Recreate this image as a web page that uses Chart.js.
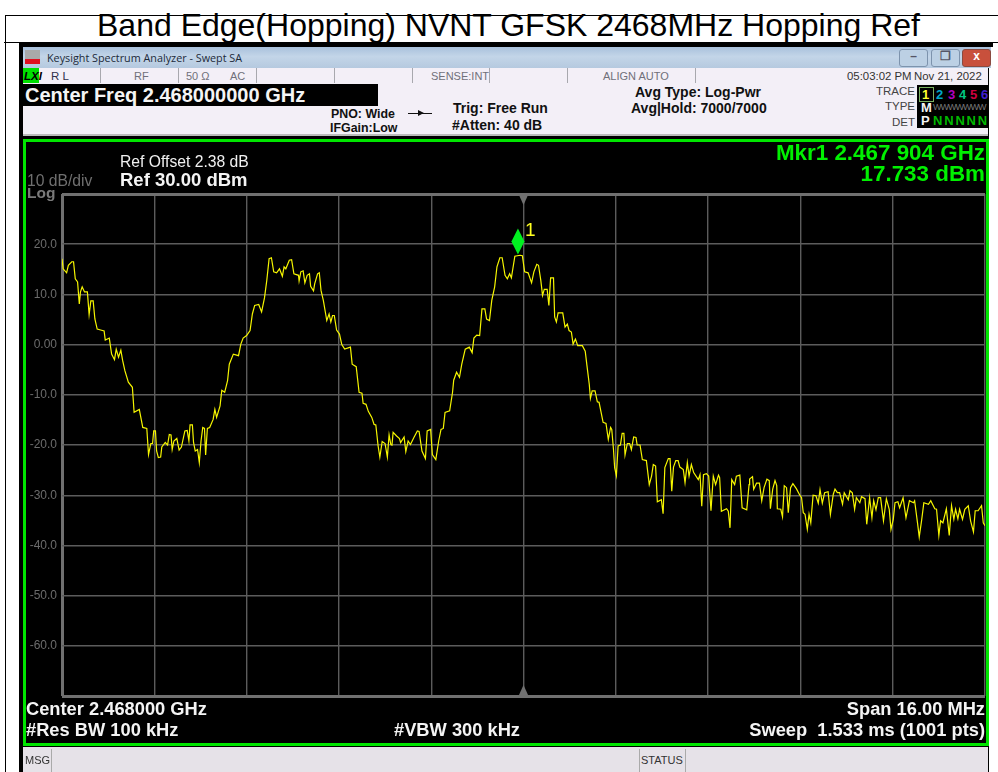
<!DOCTYPE html>
<html>
<head>
<meta charset="utf-8">
<title>Band Edge(Hopping) NVNT GFSK 2468MHz Hopping Ref</title>
<script src="https://cdn.jsdelivr.net/npm/chart.js@4/dist/chart.umd.min.js"></script>
<style>
html, body { margin: 0; padding: 0; background: #fff; }
body { width: 998px; height: 772px; position: relative; overflow: hidden; font-family: "Liberation Sans", Arial, sans-serif; }
.box { position: absolute; }
.t { position: absolute; white-space: pre; transform: translateY(-50%); }
.r { transform: translate(-100%, -50%); }
.st { font-size: 11px; color: #70707a; }
.hd { font-size: 12.4px; color: #111; font-weight: bold; }
.hb { font-size: 14px; color: #111; font-weight: bold; }
.gr { color: #00f000; font-weight: bold; font-size: 22.4px; }
.wh { color: #f4f4f4; font-weight: bold; font-size: 18.3px; }
.sep { position: absolute; top: 68px; width: 1px; height: 15px; background: #a8a8ae; }
.btn { position: absolute; top: 49px; height: 16px; border-radius: 3px; border: 1px solid #7d93ad; text-align: center; line-height: 13px; font-size: 12px; font-weight: bold; }
#plotWrap { position: absolute; left: 26px; top: 142px; width: 962px; height: 602px; }
</style>
</head>
<body>
<!-- table lines of the report page -->
<div class="box" style="left:5px;top:15px;width:993px;height:1px;background:#000"></div>
<div class="box" style="left:5px;top:15px;width:1px;height:757px;background:#000"></div>
<div class="box" style="left:4px;top:42px;width:16px;height:1px;background:#000"></div>
<div class="box" style="left:989px;top:42px;width:9px;height:1px;background:#000"></div>
<div class="t" style="left:97px;top:25px;font-size:32px;color:#000">Band Edge(Hopping) NVNT GFSK 2468MHz Hopping Ref</div>

<!-- analyzer window -->
<div class="box" style="left:19px;top:42px;width:970px;height:730px;background:#000"></div>
<div class="box" style="left:19px;top:42px;width:974px;height:5px;background:#000"></div>
<div class="box" style="left:23px;top:47px;width:968px;height:21px;background:linear-gradient(#a9c1dc,#c3d5e8 45%,#b5c9df)"></div>
<div class="box" style="left:25px;top:50px;width:15px;height:9px;background:#a9a9a9"></div>
<div class="box" style="left:25px;top:59px;width:15px;height:5px;background:#e01020"></div>
<div class="t" style="left:47px;top:57px;font-size:10.8px;font-family:'Open Sans';color:#1c2a3a">Keysight Spectrum Analyzer - Swept SA</div>
<div class="btn" style="left:899px;width:27px;background:#bcd0e4;color:#556">–</div>
<div class="btn" style="left:931px;width:27px;background:#bcd0e4;color:#556">❐</div>
<div class="btn" style="left:962px;width:27px;background:#c8503c;border-color:#8a4a40;color:#fff">x</div>

<!-- status row -->
<div class="box" style="left:23px;top:68px;width:965px;height:15px;background:#f3eff7"></div>
<div class="box" style="left:23px;top:68px;width:16px;height:15px;background:#00e000"></div>
<div class="t" style="left:24px;top:76px;font-size:11.5px;font-weight:bold;font-style:italic;color:#000">LXI</div>
<div class="sep" style="left:100px"></div><div class="sep" style="left:178px"></div><div class="sep" style="left:256px"></div>
<div class="sep" style="left:334px"></div><div class="sep" style="left:412px"></div><div class="sep" style="left:489px"></div>
<div class="sep" style="left:567px"></div><div class="sep" style="left:695px"></div>
<div class="t" style="left:51px;top:76px;font-size:11.5px;color:#30304a">R L</div>
<div class="t st" style="left:134px;top:76px">RF</div>
<div class="t st" style="left:186px;top:76px">50 Ω</div>
<div class="t st" style="left:230px;top:76px">AC</div>
<div class="t st" style="left:431px;top:76px">SENSE:INT</div>
<div class="t st" style="left:603px;top:76px">ALIGN AUTO</div>
<div class="t" style="left:847px;top:76px;font-size:11.4px;color:#333">05:03:02 PM</div>
<div class="t" style="left:914px;top:76px;font-size:11.4px;color:#333">Nov 21, 2022</div>

<!-- settings header -->
<div class="box" style="left:23px;top:83px;width:965px;height:52px;background:#f3eff7"></div>
<div class="box" style="left:23px;top:134px;width:965px;height:2px;background:#bbb"></div>
<div class="box" style="left:23px;top:84px;width:355px;height:22px;background:#000"></div>
<div class="t" style="left:25px;top:95px;font-size:20px;font-weight:bold;color:#f4f4f4">Center Freq 2.468000000 GHz</div>
<div class="t hd" style="left:331px;top:114px">PNO: Wide</div>
<div class="t hd" style="left:330px;top:128px">IFGain:Low</div>
<div class="box" style="left:408px;top:113px;width:24px;height:1px;background:#111"></div>
<div class="box" style="left:418px;top:110px;width:0;height:0;border-left:6px solid #111;border-top:3px solid transparent;border-bottom:3px solid transparent"></div>
<div class="t hb" style="left:453px;top:108px">Trig: Free Run</div>
<div class="t hb" style="left:452px;top:125px">#Atten: 40 dB</div>
<div class="t hb" style="left:635px;top:92px">Avg Type: Log-Pwr</div>
<div class="t hb" style="left:631px;top:108px">Avg|Hold: 7000/7000</div>
<div class="t r" style="left:915px;top:91px;font-size:11.5px;color:#444">TRACE</div>
<div class="t r" style="left:915px;top:106px;font-size:11.5px;color:#444">TYPE</div>
<div class="t r" style="left:915px;top:122px;font-size:11.5px;color:#444">DET</div>
<div class="box" style="left:917px;top:85px;width:72px;height:43px;background:#000"></div>
<div class="box" style="left:919px;top:87px;width:13px;height:13px;border:1px solid #7ab060"></div>
<div class="t" style="left:922px;top:94px;font-size:13px;font-weight:bold;color:#ffff30">1</div>
<div class="t" style="left:936px;top:94px;font-size:13px;font-weight:bold;color:#00a8c8">2</div>
<div class="t" style="left:948px;top:94px;font-size:13px;font-weight:bold;color:#b000c0">3</div>
<div class="t" style="left:959px;top:94px;font-size:13px;font-weight:bold;color:#00c880">4</div>
<div class="t" style="left:970px;top:94px;font-size:13px;font-weight:bold;color:#d00040">5</div>
<div class="t" style="left:981px;top:94px;font-size:13px;font-weight:bold;color:#4020d0">6</div>
<div class="t" style="left:921px;top:107px;font-size:13px;font-weight:bold;color:#f4f4f4">M</div>
<div class="t" style="left:933px;top:107px;font-size:9px;letter-spacing:-1px;color:#777">WWWWWWW</div>
<div class="t" style="left:921px;top:120px;font-size:13px;font-weight:bold;color:#f4f4f4">P</div>
<div class="t" style="left:933px;top:120px;font-size:13px;font-weight:bold;color:#00b800;letter-spacing:1.8px">NNNNN</div>

<!-- green frame and plot -->
<div class="box" style="left:23px;top:139px;width:960px;height:601px;border:3px solid #00e600"></div>
<div id="plotWrap"><canvas id="traceChart" width="962" height="602"></canvas></div>

<div class="t" style="left:120px;top:162px;font-size:15.7px;color:#f0f0f0">Ref Offset 2.38 dB</div>
<div class="t wh" style="left:120px;top:180px;font-size:18.5px">Ref 30.00 dBm</div>
<div class="t" style="left:27px;top:181px;font-size:15.7px;color:#6f6f6f">10 dB/div</div>
<div class="t" style="left:27px;top:193px;font-size:15.5px;font-weight:bold;color:#7a7a7a">Log</div>
<div class="t gr r" style="left:985px;top:153px">Mkr1 2.467 904 GHz</div>
<div class="t gr r" style="left:985px;top:174px">17.733 dBm</div>
<div class="t wh" style="left:26px;top:709px">Center 2.468000 GHz</div>
<div class="t wh" style="left:26px;top:730px">#Res BW 100 kHz</div>
<div class="t wh" style="left:394px;top:730px">#VBW 300 kHz</div>
<div class="t wh r" style="left:985px;top:709px">Span 16.00 MHz</div>
<div class="t wh r" style="left:985px;top:730px">Sweep  1.533 ms (1001 pts)</div>

<!-- message strip -->
<div class="box" style="left:23px;top:747px;width:965px;height:25px;background:#e6e2e8"></div>
<div class="box" style="left:51px;top:749px;width:1px;height:23px;background:#aaa"></div>
<div class="box" style="left:639px;top:749px;width:1px;height:23px;background:#aaa"></div>
<div class="box" style="left:685px;top:749px;width:1px;height:23px;background:#aaa"></div>
<div class="t" style="left:25px;top:760px;font-size:11px;color:#333">MSG</div>
<div class="t" style="left:641px;top:760px;font-size:11px;color:#333">STATUS</div>

<script>
// frequency offset from the sweep start (2.460 GHz), MHz
const traceMHz = [
  0.00, 0.02, 0.08, 0.11, 0.17, 0.20, 0.23, 0.27, 0.30, 0.32, 0.35, 0.39, 0.44, 0.47, 0.50, 0.54, 0.57, 0.61, 0.67, 0.73,
  0.75, 0.82, 0.86, 0.91, 0.94, 0.98, 1.02, 1.05, 1.09, 1.15, 1.22, 1.25, 1.34, 1.40, 1.47, 1.50, 1.54, 1.57, 1.59, 1.62,
  1.64, 1.67, 1.71, 1.73, 1.79, 1.83, 1.86, 1.89, 1.91, 1.94, 1.99, 2.03, 2.07, 2.13, 2.17, 2.20, 2.22, 2.26, 2.28, 2.31,
  2.35, 2.38, 2.41, 2.44, 2.47, 2.49, 2.52, 2.56, 2.62, 2.65, 2.68, 2.74, 2.77, 2.82, 2.87, 2.90, 2.97, 3.06, 3.10, 3.14,
  3.20, 3.26, 3.30, 3.34, 3.41, 3.46, 3.51, 3.55, 3.59, 3.63, 3.67, 3.72, 3.77, 3.82, 3.85, 3.88, 3.94,
  3.98, 4.02, 4.10, 4.11, 4.14, 4.18, 4.21, 4.25, 4.29, 4.31, 4.36, 4.38, 4.43, 4.46, 4.49, 4.53, 4.59, 4.63, 4.66, 4.69,
  4.72, 4.76, 4.81, 4.85, 4.90, 5.00, 5.03, 5.10, 5.15, 5.20, 5.22, 5.27, 5.31, 5.37, 5.41, 5.44, 5.48, 5.51, 5.55, 5.60,
  5.64, 5.67, 5.70, 5.72, 5.74, 5.80, 5.85, 5.87, 5.93, 5.96, 6.00, 6.04, 6.10, 6.16, 6.19, 6.24, 6.30, 6.33, 6.39, 6.42,
  6.48, 6.53, 6.57, 6.61, 6.64, 6.72, 6.77, 6.79, 6.84, 6.89, 6.93, 6.99, 7.06, 7.11, 7.14, 7.19, 7.24, 7.28, 7.33, 7.36,
  7.41, 7.45, 7.50, 7.54, 7.59, 7.63, 7.68, 7.72, 7.76, 7.79, 7.85, 7.94,
  7.98, 8.02, 8.08, 8.14, 8.18, 8.23, 8.26, 8.30, 8.33, 8.36, 8.41, 8.44, 8.47, 8.52, 8.54, 8.57, 8.60, 8.68, 8.72, 8.76,
  8.79, 8.83, 8.86, 8.90, 8.94, 9.02, 9.07, 9.10, 9.14, 9.16, 9.19, 9.24, 9.28, 9.31, 9.34, 9.38, 9.43, 9.47, 9.51, 9.53,
  9.56, 9.58, 9.61, 9.64, 9.68, 9.71, 9.74, 9.76, 9.80, 9.84, 9.87, 9.91, 9.95, 9.97, 10.02, 10.06, 10.13, 10.18, 10.22, 10.25,
  10.29, 10.32, 10.39, 10.42, 10.45, 10.51, 10.54, 10.57, 10.60, 10.64, 10.68, 10.71, 10.77, 10.80, 10.84, 10.87, 10.91, 10.95, 11.03, 11.06,
  11.09, 11.12, 11.17, 11.21, 11.25, 11.29, 11.33, 11.38, 11.40, 11.43, 11.52, 11.55, 11.58, 11.61, 11.66, 11.69, 11.75, 11.79, 11.87, 11.91,
  11.92, 11.97, 11.99, 12.04, 12.09, 12.13, 12.17, 12.22, 12.26, 12.28, 12.32, 12.36, 12.39, 12.40, 12.46, 12.49, 12.52, 12.56, 12.59, 12.63,
  12.67, 12.73, 12.79, 12.82, 12.85, 12.88, 12.92, 12.95, 12.98, 13.02, 13.07, 13.11, 13.14, 13.18, 13.22, 13.28, 13.32, 13.37, 13.40, 13.44,
  13.48, 13.53, 13.56, 13.63, 13.66, 13.70, 13.74, 13.77, 13.83, 13.86, 13.92, 13.95, 14.00, 14.04, 14.07, 14.11, 14.15, 14.19, 14.24, 14.29,
  14.34, 14.37, 14.41, 14.44, 14.49, 14.52, 14.58, 14.63, 14.69, 14.76, 14.78, 14.83, 14.86, 14.90, 14.94, 15.02, 15.06, 15.13, 15.16, 15.20,
  15.23, 15.27, 15.33, 15.38, 15.42, 15.46, 15.49, 15.53, 15.56, 15.61, 15.65, 15.71, 15.75, 15.80, 15.83, 15.88, 15.94, 15.97, 16.00
];
// trace level, dBm
const traceDbm = [
  17.1, 15.1, 14.3, 15.8, 16.5, 16.5, 13.1, 12.5, 8.1, 10.5, 11.5, 10.5, 10.5, 6.0, 8.7, 8.7, 5.1, 3.1, 2.9, 2.7,
  0.9, 1.3, -1.9, -3.0, -0.9, -2.5, -1.1, -3.1, -5.2, -7.5, -8.5, -13.5, -12.9, -16.5, -16.7, -21.9, -19.7, -19.7, -17.2, -17.2,
  -21.2, -22.5, -22.4, -20.4, -19.5, -20.0, -17.9, -18.0, -20.9, -19.2, -18.7, -21.0, -20.4, -17.2, -17.1, -19.2, -16.0, -16.0, -19.5, -21.2,
  -20.9, -23.5, -19.2, -16.5, -16.7, -22.0, -16.7, -16.5, -14.9, -12.9, -14.5, -12.2, -9.1, -9.5, -7.2, -3.9, -1.9, -2.2, 0.1, 1.3,
  1.8, 2.8, 6.1, 7.8, 8.0, 6.5, 9.3, 12.8, 17.1, 17.3, 14.5, 14.3, 15.1, 13.6, 15.5, 15.1, 16.8,
  16.9, 14.1, 13.8, 12.7, 14.5, 14.7, 12.3, 13.8, 14.1, 11.6, 10.7, 12.1, 14.1, 14.3, 10.8, 8.8, 4.8, 6.1, 4.5, 5.8,
  5.8, 2.9, 2.1, 0.0, -0.9, -0.5, -3.9, -4.4, -9.5, -9.7, -11.7, -11.9, -13.3, -14.5, -15.9, -16.0, -20.2, -22.4, -19.3, -19.7,
  -22.4, -18.0, -19.9, -20.0, -17.5, -18.2, -18.7, -19.5, -18.4, -21.3, -19.2, -19.9, -18.5, -17.2, -17.3, -21.2, -22.7, -17.2, -16.9, -21.9,
  -22.9, -19.2, -16.9, -16.7, -13.5, -13.2, -9.5, -7.1, -5.5, -6.5, -3.9, -0.9, -0.5, -1.6, 1.3, 1.9, 1.8, 7.1, 7.1, 5.1,
  4.8, 8.8, 11.5, 15.5, 17.3, 17.3, 13.8, 13.1, 14.1, 13.3, 17.6, 17.8,
  17.7, 14.5, 14.3, 12.3, 14.5, 16.0, 15.8, 12.8, 9.8, 11.0, 11.0, 7.8, 13.3, 13.3, 5.5, 4.5, 6.3, 6.3, 3.5, 4.1,
  2.8, 2.5, 0.1, 1.1, -0.2, -0.2, -1.3, -4.2, -7.9, -10.7, -9.2, -9.2, -11.4, -11.5, -13.2, -15.5, -15.7, -18.9, -16.5, -16.9,
  -20.9, -24.5, -26.1, -20.2, -20.0, -17.7, -17.7, -22.0, -19.7, -19.7, -20.9, -18.4, -18.5, -20.0, -20.0, -22.9, -23.1, -27.9, -26.2, -23.9,
  -24.2, -31.3, -30.9, -33.7, -24.5, -22.7, -22.7, -29.2, -24.4, -23.1, -23.1, -24.4, -24.9, -27.5, -23.5, -26.2, -23.9, -25.5, -26.9, -25.9,
  -32.2, -25.9, -25.7, -26.2, -33.1, -26.2, -27.9, -26.0, -26.5, -33.2, -32.7, -33.2, -36.5, -26.9, -27.9, -26.2, -26.0, -32.5, -32.9, -27.9,
  -26.8, -26.3, -28.8, -27.6, -27.6, -31.1, -28.5, -26.8, -27.1, -32.7, -28.8, -27.1, -28.1, -32.7, -32.8, -34.3, -28.1, -28.5, -33.5, -28.5,
  -27.7, -28.7, -30.0, -30.5, -33.5, -33.8, -36.8, -33.8, -35.5, -30.0, -30.1, -31.6, -28.9, -31.6, -29.5, -29.3, -33.8, -29.8, -28.8, -29.5,
  -29.5, -31.8, -29.5, -30.9, -29.1, -29.5, -32.8, -30.5, -31.5, -30.3, -30.7, -35.8, -30.5, -34.5, -31.1, -32.9, -30.5, -30.5, -35.1, -30.7,
  -32.8, -36.8, -34.8, -31.5, -31.3, -32.5, -30.5, -34.5, -31.1, -31.5, -31.1, -35.5, -38.3, -35.1, -31.5, -31.8, -31.1, -32.7, -32.8, -38.0,
  -35.1, -35.5, -32.7, -38.0, -32.1, -34.8, -32.8, -34.7, -32.8, -34.8, -32.8, -32.1, -35.1, -37.3, -33.1, -33.1, -32.1, -35.5, -36.1
];
const markerMHz = [7.904];
const markerDbm = [17.733];
const centerMHz = 8;
const yTickLabels = { 20: '20.0', 10: '10.0', 0: '0.00', '-10': '-10.0', '-20': '-20.0', '-30': '-30.0', '-40': '-40.0', '-50': '-50.0', '-60': '-60.0' };

const borderGrey = '#707070';
const gridGrey = '#5c5c5c';

// peak marker diamond and the centre-frequency triangles on the graticule
const analyzerMarks = {
    id: 'analyzerMarks',
    afterDatasetsDraw(chart) {
        const { ctx, scales, chartArea } = chart;
        const cx = scales.x.getPixelForValue(centerMHz);
        ctx.save();
        ctx.fillStyle = borderGrey;
        ctx.beginPath();
        ctx.moveTo(cx - 5, chartArea.top); ctx.lineTo(cx + 5, chartArea.top); ctx.lineTo(cx, chartArea.top + 11);
        ctx.closePath(); ctx.fill();
        ctx.beginPath();
        ctx.moveTo(cx - 5, chartArea.bottom); ctx.lineTo(cx + 5, chartArea.bottom); ctx.lineTo(cx, chartArea.bottom - 11);
        ctx.closePath(); ctx.fill();

        const mx = scales.x.getPixelForValue(markerMHz[0]);
        const my = scales.y.getPixelForValue(markerDbm[0]);
        ctx.fillStyle = '#00f020';
        ctx.beginPath();
        ctx.moveTo(mx, my - 27); ctx.lineTo(mx + 6.5, my - 14); ctx.lineTo(mx, my - 1); ctx.lineTo(mx - 6.5, my - 14);
        ctx.closePath(); ctx.fill();
        ctx.fillStyle = '#ffff20';
        ctx.font = '19px "Liberation Sans"';
        ctx.textBaseline = 'middle';
        ctx.fillText('1', mx + 7, my - 25);
        ctx.restore();
    }
};

new Chart(document.getElementById('traceChart').getContext('2d'), {
    type: 'line',
    data: {
        datasets: [{
            label: 'Trace 1',
            data: traceMHz.map((f, i) => ({ x: f, y: traceDbm[i] })),
            borderColor: '#f6f600',
            borderWidth: 1.2,
            pointRadius: 0,
            tension: 0
        }]
    },
    options: {
        responsive: false,
        animation: false,
        layout: { padding: { left: 0, right: 3, top: 52, bottom: 48 } },
        plugins: { legend: { display: false }, tooltip: { enabled: false } },
        scales: {
            x: {
                type: 'linear',
                min: 0,
                max: 16,
                afterFit: s => { s.height = 0; },
                ticks: { stepSize: 1.6, display: false },
                border: { display: false },
                grid: {
                    drawTicks: false,
                    color: ctx => ctx.index === 0 ? borderGrey : gridGrey,
                    lineWidth: ctx => ctx.index === 0 ? 3 : 1.4
                }
            },
            y: {
                min: -70,
                max: 30,
                afterFit: s => { s.width = 36; },
                ticks: {
                    stepSize: 10,
                    padding: 5,
                    color: '#6c6c6c',
                    font: { family: '"Liberation Sans"', size: 12 },
                    callback: v => yTickLabels[v] || ''
                },
                border: { display: false },
                grid: {
                    drawTicks: false,
                    color: ctx => (ctx.index === 0 || ctx.index === 10) ? borderGrey : gridGrey,
                    lineWidth: ctx => (ctx.index === 0 || ctx.index === 10) ? 3 : 1.4
                }
            }
        }
    },
    plugins: [analyzerMarks]
});
</script>
</body>
</html>
